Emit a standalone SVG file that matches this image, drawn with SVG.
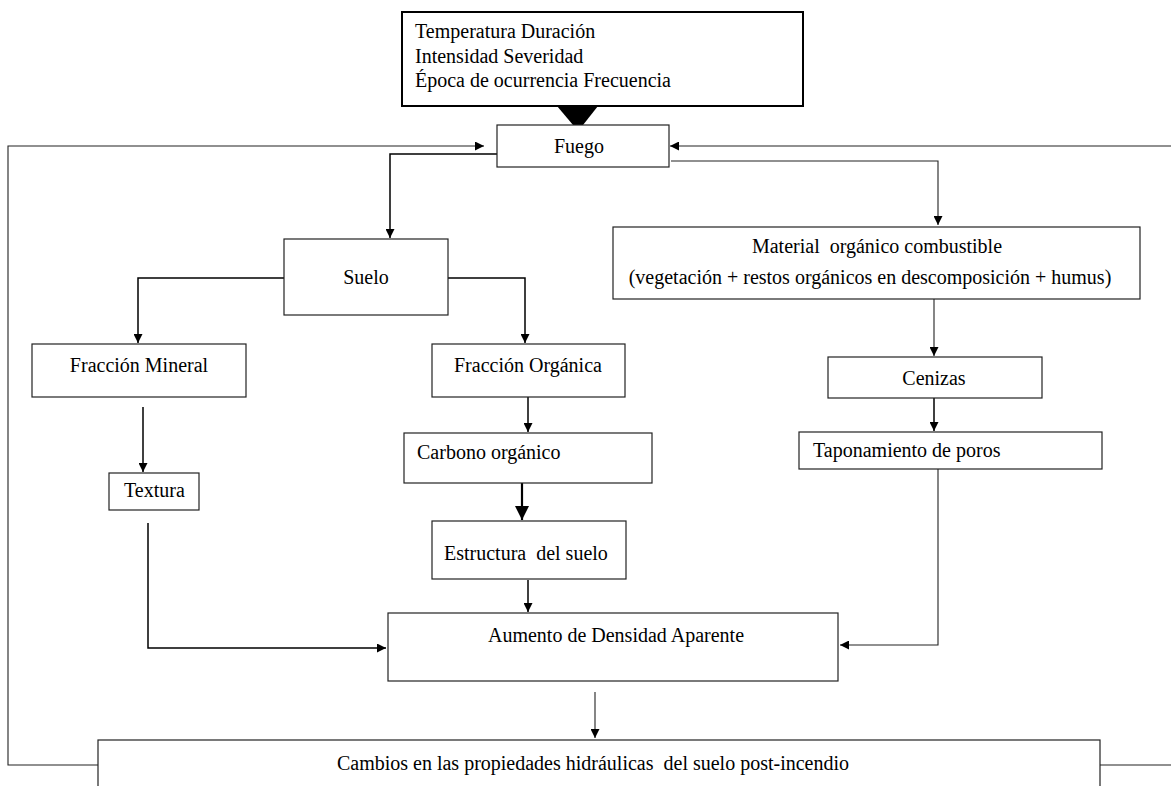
<svg xmlns="http://www.w3.org/2000/svg" width="1171" height="786" viewBox="0 0 1171 786">
  <style>
    .box { fill: #ffffff; stroke: #222222; stroke-width: 1.2; }
    .box-strong { fill: #ffffff; stroke: #000000; stroke-width: 2; }
    .lbl { font-family: "Liberation Serif", "Times New Roman", serif; font-size: 20px; fill: #000000; white-space: pre; }
    .mid { text-anchor: middle; }
    .wire { fill: none; stroke: #000000; stroke-width: 1.5; }
    .wire-thin { fill: none; stroke: #222222; stroke-width: 1.1; }
    .wire-bold { fill: none; stroke: #000000; stroke-width: 2.2; }
  </style>
  <defs>
    <marker id="ah" viewBox="0 0 10 10" refX="10" refY="5" markerWidth="10" markerHeight="9" markerUnits="userSpaceOnUse" orient="auto">
      <path d="M0,0 L10,5 L0,10 z" fill="#000000"/>
    </marker>
    <marker id="ah-big" viewBox="0 0 10 10" refX="10" refY="5" markerWidth="16" markerHeight="14" markerUnits="userSpaceOnUse" orient="auto">
      <path d="M0,0 L10,5 L0,10 z" fill="#000000"/>
    </marker>
  </defs>

  <rect width="1171" height="786" fill="#ffffff"/>

  <!-- connectors -->
  <g id="connectors">
    <!-- feedback loops back to the fire -->
    <path class="wire-thin" d="M98,765 H8 V146 H484" marker-end="url(#ah)"/>
    <path class="wire-thin" d="M1100,765 H1171"/>
    <path class="wire-thin" d="M1171,146 H670" marker-end="url(#ah)"/>
    <!-- fire branches -->
    <path class="wire" d="M497,154 H390 V238" marker-end="url(#ah)"/>
    <path class="wire-thin" d="M671,161 H938 V225" marker-end="url(#ah)"/>
    <!-- soil branches -->
    <path class="wire" d="M284,278 H138 V343" marker-end="url(#ah)"/>
    <path class="wire" d="M448,278 H525 V343" marker-end="url(#ah)"/>
    <path class="wire" d="M143,407 V472" marker-end="url(#ah)"/>
    <path class="wire" d="M528,397 V432" marker-end="url(#ah)"/>
    <path class="wire-bold" d="M522,483 V520" marker-end="url(#ah-big)"/>
    <path class="wire" d="M528,580 V612" marker-end="url(#ah)"/>
    <path class="wire" d="M148,523 V648 H386" marker-end="url(#ah)"/>
    <!-- fuel branch -->
    <path class="wire-thin" d="M934,299 V356" marker-end="url(#ah)"/>
    <path class="wire" d="M934,398 V431" marker-end="url(#ah)"/>
    <path class="wire-thin" d="M938,469 V645 H840" marker-end="url(#ah)"/>
    <!-- to hydraulic changes -->
    <path class="wire-thin" d="M595,692 V738" marker-end="url(#ah)"/>
  </g>

  <g id="node-factores">
    <rect class="box-strong" x="402" y="12" width="401" height="94"/>
    <text class="lbl" x="415" y="38">Temperatura Duración</text>
    <text class="lbl" x="415" y="63">Intensidad Severidad</text>
    <text class="lbl" x="415" y="87">Época de ocurrencia Frecuencia</text>
    <path d="M557,106 L598,106 L583,125 Q578,129 573,125 Z" fill="#000000"/>
  </g>

  <g id="node-fuego">
    <rect class="box" x="497" y="125" width="172" height="42"/>
    <text class="lbl mid" x="579" y="153">Fuego</text>
  </g>

  <g id="node-suelo">
    <rect class="box" x="284" y="239" width="164" height="76"/>
    <text class="lbl mid" x="366" y="284">Suelo</text>
  </g>

  <g id="node-material">
    <rect class="box" x="613" y="227" width="527" height="72"/>
    <text class="lbl mid" x="877" y="253">Material  orgánico combustible</text>
    <text class="lbl mid" x="870" y="284">(vegetación + restos orgánicos en descomposición + humus)</text>
  </g>

  <g id="node-fraccion-mineral">
    <rect class="box" x="32" y="344" width="214" height="53"/>
    <text class="lbl mid" x="139" y="372">Fracción Mineral</text>
  </g>

  <g id="node-fraccion-organica">
    <rect class="box" x="432" y="344" width="193" height="53"/>
    <text class="lbl" x="454" y="372">Fracción Orgánica</text>
  </g>

  <g id="node-cenizas">
    <rect class="box" x="828" y="357" width="214" height="41"/>
    <text class="lbl mid" x="934" y="385">Cenizas</text>
  </g>

  <g id="node-carbono">
    <rect class="box" x="404" y="433" width="248" height="50"/>
    <text class="lbl" x="417" y="459">Carbono orgánico</text>
  </g>

  <g id="node-taponamiento">
    <rect class="box" x="799" y="432" width="303" height="37"/>
    <text class="lbl" x="813" y="457">Taponamiento de poros</text>
  </g>

  <g id="node-textura">
    <rect class="box" x="109" y="473" width="90" height="37"/>
    <text class="lbl" x="124" y="497">Textura</text>
  </g>

  <g id="node-estructura">
    <rect class="box" x="432" y="521" width="194" height="58"/>
    <text class="lbl" x="444" y="560">Estructura  del suelo</text>
  </g>

  <g id="node-densidad">
    <rect class="box" x="388" y="613" width="450" height="68"/>
    <text class="lbl mid" x="616" y="642">Aumento de Densidad Aparente</text>
  </g>

  <g id="node-cambios">
    <rect class="box" x="98" y="740" width="1002" height="70"/>
    <text class="lbl mid" x="593" y="770">Cambios en las propiedades hidráulicas  del suelo post-incendio</text>
  </g>
</svg>
